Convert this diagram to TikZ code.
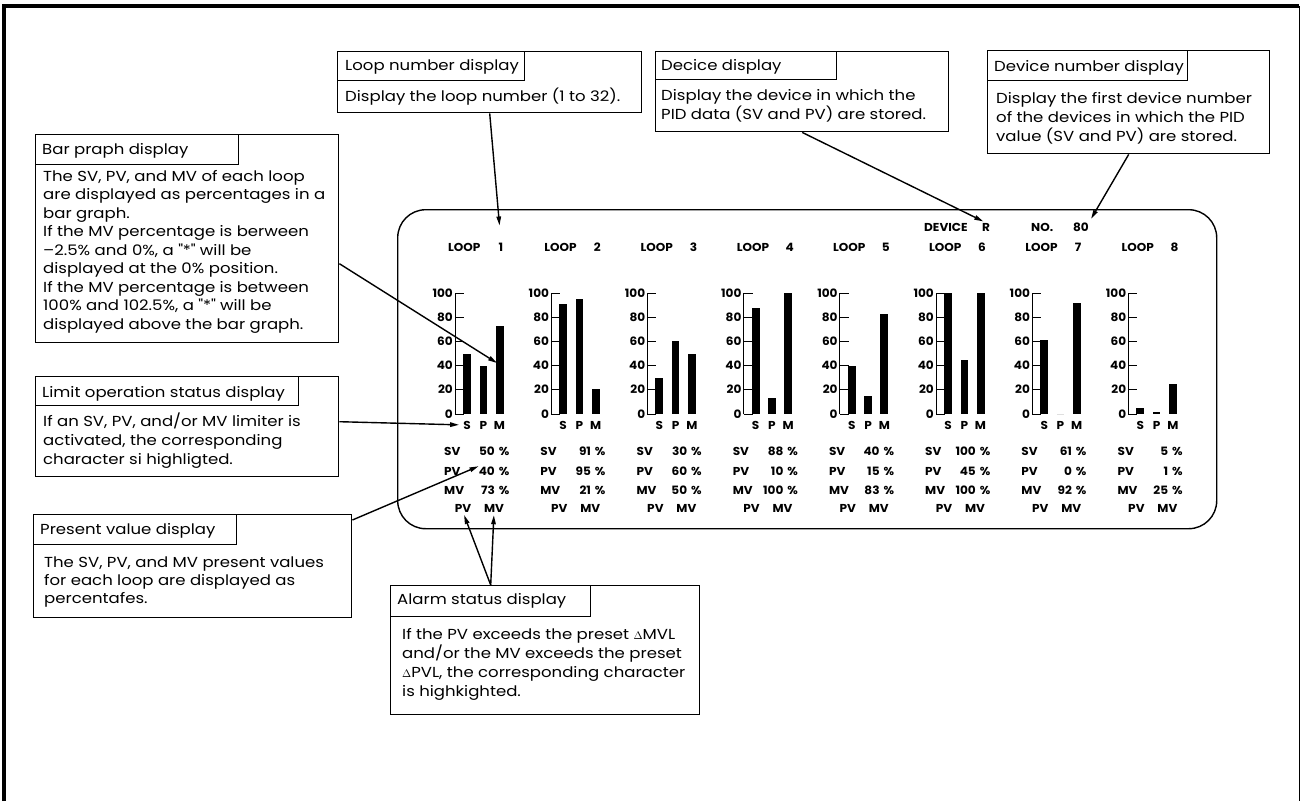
\documentclass[tikz,border=0pt]{standalone}
\usepackage{fontspec}
\setmainfont{Poppins}[FakeStretch=1.14]
\newfontfamily\panelfont{Poppins}[FakeStretch=1.05]
\usetikzlibrary{arrows.meta,calc}

\newcommand\dq{\textquotesingle\textquotesingle}
\newcommand\dlt{{\fontsize{11}{11}\selectfont$\Delta$}}

\tikzset{
  cbox/.style={draw, line width=1.4pt, inner sep=0pt, anchor=north west},
  ctext/.style={font=\fontsize{14.5}{16}\selectfont, inner sep=0pt, anchor=base west},
  ptext/.style={font=\panelfont\fontsize{11.5}{14}\selectfont\bfseries, inner sep=0pt},
  conn/.style={line width=1.4pt, -{Triangle[length=9pt,width=4.5pt]}},
  axisline/.style={line width=1pt},
  panelbox/.style={draw, line width=1.4pt, rounded corners=28pt, inner sep=0pt, anchor=north west},
}

\begin{document}
\begin{tikzpicture}[x=1pt,y=-1pt]
\useasboundingbox (0,0) rectangle (1300,801);

% sheet frame
\draw[line width=4pt] (4,801) -- (4,6) -- (1299,6);
\draw[line width=1pt] (1299,6) -- (1299,801);

% ---------- callout boxes ----------
% loop number
\node[cbox, minimum width=304, minimum height=61] (loopbox) at (337,51) {};
\node[cbox, minimum width=187, minimum height=29] (looptitle) at (337,51) {};
\node[ctext] (looptitle-t) at (345,70.5) {Loop number display};
\node[ctext] (loopbody) at (345,101) {Display the loop number (1 to 32).};

% device
\node[cbox, minimum width=293, minimum height=80] (devbox) at (655,51) {};
\node[cbox, minimum width=181, minimum height=28] (devtitle) at (655,51) {};
\node[ctext] (devtitle-t) at (661,70) {Decice display};
\foreach \t [count=\k] in {{Display the device in which the},{PID data (SV and PV) are stored.}}
  \node[ctext] (devbody-\k) at (661,{100.5+19.3*(\k-1)}) {\t};

% device number
\node[cbox, minimum width=282, minimum height=103] (numbox) at (987,50) {};
\node[cbox, minimum width=200, minimum height=30] (numtitle) at (987,50) {};
\node[ctext] (numtitle-t) at (994,71) {Device number display};
\foreach \t [count=\k] in {{Display the first device number},{of the devices in which the PID},{value (SV and PV) are stored.}}
  \node[ctext] (numbody-\k) at (996,{103.5+18.8*(\k-1)}) {\t};

% bar graph
\node[cbox, minimum width=303, minimum height=208] (barbox) at (35,134) {};
\node[cbox, minimum width=203, minimum height=30] (bartitle) at (35,134) {};
\node[ctext] (bartitle-t) at (42,154) {Bar praph display};
\foreach \t [count=\k] in {{The SV, PV, and MV of each loop},{are displayed as percentages in a},{bar graph.},{If the MV percentage is berween},{–2.5\% and 0\%, a \dq*\dq{} will be},{displayed at the 0\% position.},{If the MV percentage is between},{100\% and 102.5\%, a \dq*\dq{} will be},{displayed above the bar graph.}}
  \node[ctext] (barbody-\k) at (43,{181+18.5*(\k-1)}) {\t};

% limit operation
\node[cbox, minimum width=303, minimum height=100] (limbox) at (35,376) {};
\node[cbox, minimum width=263, minimum height=29] (limtitle) at (35,376) {};
\node[ctext] (limtitle-t) at (42,397) {Limit operation status display};
\foreach \t [count=\k] in {{If an SV, PV, and/or MV limiter is},{activated, the corresponding},{character si highligted.}}
  \node[ctext] (limbody-\k) at (43,{426.5+18.8*(\k-1)}) {\t};

% present value
\node[cbox, minimum width=318, minimum height=103] (pvbox) at (33,514) {};
\node[cbox, minimum width=203, minimum height=30] (pvtitle) at (33,514) {};
\node[ctext] (pvtitle-t) at (40,534) {Present value display};
\foreach \t [count=\k] in {{The SV, PV, and MV present values},{for each loop are displayed as},{percentafes.}}
  \node[ctext] (pvbody-\k) at (44,{567+18.3*(\k-1)}) {\t};

% alarm status
\node[cbox, minimum width=309, minimum height=129] (almbox) at (390,585) {};
\node[cbox, minimum width=200, minimum height=31] (almtitle) at (390,585) {};
\node[ctext] (almtitle-t) at (397,604.5) {Alarm status display};
\foreach \t [count=\k] in {{If the PV exceeds the preset \dlt MVL},{and/or the MV exceeds the preset},{\dlt PVL, the corresponding character},{is highkighted.}}
  \node[ctext] (almbody-\k) at (402,{639+19.2*(\k-1)}) {\t};

% ---------- display panel ----------
\node[panelbox, minimum width=819, minimum height=319] (panel) at (397,209) {};

\node[ptext, anchor=base west] (devlabel) at (924,231) {DEVICE};
\node[ptext, anchor=base] (devR) at (986,231) {R};
\node[ptext, anchor=base west] (nolabel) at (1031,231) {NO.};
\node[ptext, anchor=base] (no80) at (1081,231) {80};

\foreach \i/\hs/\hp/\hm/\vs/\vp/\vm in {1/50/40/73/50/40/73, 2/91/95/21/91/95/21, 3/30/60/50/30/60/50, 4/88/13/100/88/10/100, 5/40/15/83/40/15/83, 6/100/45/100/100/45/100, 7/61/0/92/61/0/92, 8/5/1.5/25/5/1/25}{
  \pgfmathsetmacro\xo{455+96.2*(\i-1)}
  % loop heading
  \node[ptext, anchor=base west] (loop\i) at ({\xo-7},251) {LOOP};
  \node[ptext, anchor=base] (num\i) at ({\xo+46},251) {\i};
  % scale
  \draw[axisline] (\xo,414) -- (\xo,293);
  \foreach \v in {0,20,...,100}{
    \draw[axisline] (\xo,{414-1.21*\v}) -- ({\xo+9},{414-1.21*\v});
    \node[ptext, anchor=base east] (ax-\i-\v) at ({\xo-2},{418-1.21*\v}) {\v};
  }
  % bars
  \fill ({\xo+8},414) rectangle ({\xo+16},{414-1.21*\hs});
  \fill ({\xo+24.5},414) rectangle ({\xo+32},{414-1.21*\hp});
  \fill ({\xo+40.5},414) rectangle ({\xo+48.5},{414-1.21*\hm});
  \node[ptext, anchor=base] (s\i) at ({\xo+12},429) {S};
  \node[ptext, anchor=base] (p\i) at ({\xo+28.3},429) {P};
  \node[ptext, anchor=base] (m\i) at ({\xo+44.5},429) {M};
  % present values
  \node[ptext, anchor=base west] (svl\i) at ({\xo-11},455) {SV};
  \node[ptext, anchor=base east] (svv\i) at ({\xo+40},455) {\vs};
  \node[ptext, anchor=base] (svp\i) at ({\xo+49},455) {\%};
  \node[ptext, anchor=base west] (pvl\i) at ({\xo-11},475) {PV};
  \node[ptext, anchor=base east] (pvv\i) at ({\xo+40},475) {\vp};
  \node[ptext, anchor=base] (pvp\i) at ({\xo+49},475) {\%};
  \node[ptext, anchor=base west] (mvl\i) at ({\xo-11},494) {MV};
  \node[ptext, anchor=base east] (mvv\i) at ({\xo+40},494) {\vm};
  \node[ptext, anchor=base] (mvp\i) at ({\xo+49},494) {\%};
  % alarm characters
  \node[ptext, anchor=base] (apv\i) at ({\xo+8},512) {PV};
  \node[ptext, anchor=base] (amv\i) at ({\xo+39},512) {MV};
}

\coordinate (mbar1) at (497,363);

% ---------- connectors ----------
\draw[conn, shorten >=17pt] (loopbox.south) -- (num1.north);
\draw[conn, shorten >=3pt] (devbox.south) -- (devR.north);
\draw[conn, shorten >=4pt] (numbox.south) -- (no80.north east);
\draw[conn] ([yshift=-25pt]barbox.east) -- (mbar1);
\draw[conn, shorten >=4pt] ([yshift=5pt]limbox.east) -- (s1.west);
\draw[conn] ([yshift=-6pt]pvbox.north east) -- (pvv1.north west);
\draw[conn, shorten >=3pt] (almtitle.north) -- (apv1.south);
\draw[conn, shorten >=3pt] (almtitle.north) -- (amv1.south);
\end{tikzpicture}
\end{document}
